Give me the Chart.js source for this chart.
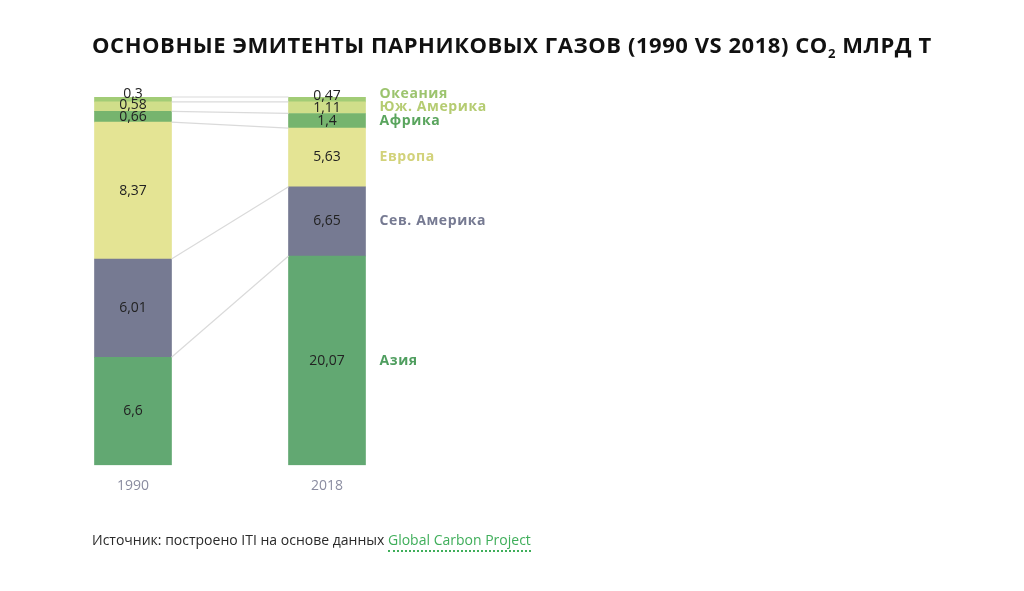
<!DOCTYPE html>
<html>
<head>
<meta charset="utf-8">
<script src="https://cdn.jsdelivr.net/npm/chart.js@4.4.1/dist/chart.umd.min.js"></script>
<style>
  html, body { margin: 0; padding: 0; background: #ffffff; }
  #wrap { position: relative; width: 1024px; height: 591px; overflow: hidden; }
  #title { position: absolute; left: 92px; top: 29px; font-family: "Open Sans", sans-serif; font-weight: 700; font-size: 22px; color: #111; white-space: nowrap; letter-spacing: 0.55px; }
  #title sub { font-size: 13px; vertical-align: -5px; line-height: 0; }
  #source { position: absolute; left: 92px; top: 530px; font-family: "Open Sans", sans-serif; font-size: 14px; color: #2a2a2a; white-space: nowrap; }
  #source span { color: #3fae5a; border-bottom: 2px dotted #3fae5a; padding-bottom: 1px; }
  canvas { position: absolute; left: 0; top: 0; }
</style>
</head>
<body>
<div id="wrap">
  <canvas id="c" width="1024" height="591"></canvas>
  <div id="title">ОСНОВНЫЕ ЭМИТЕНТЫ ПАРНИКОВЫХ ГАЗОВ (1990 VS 2018) CO<sub>2</sub> МЛРД Т</div>
  <div id="source">Источник: построено ITI на основе данных <span>Global Carbon Project</span></div>
</div>
<script>
// ---- data ----
const years = ['1990', '2018'];
const regions = ['Азия', 'Сев. Америка', 'Европа', 'Африка', 'Юж. Америка', 'Океания'];
const asia = [6.6, 20.07];
const northAmerica = [6.01, 6.65];
const europe = [8.37, 5.63];
const africa = [0.66, 1.4];
const southAmerica = [0.58, 1.11];
const oceania = [0.3, 0.47];

const seriesValues = [asia, northAmerica, europe, africa, southAmerica, oceania];
const barColors = ['#62a872', '#767a92', '#e4e494', '#76b46e', '#d0de8a', '#a2cc76'];
const labelColors = ['#4f9e5f', '#767a92', '#d2d27a', '#5aa55e', '#b5cc72', '#9cc46e'];

const totals = years.map((_, j) => seriesValues.reduce((s, arr) => s + arr[j], 0));

const datasets = seriesValues.map((vals, i) => ({
  label: regions[i],
  data: vals.map((v, j) => v / totals[j] * 100),
  raw: vals,
  backgroundColor: barColors[i],
  borderWidth: 0,
  barThickness: 77,
  stack: 's'
}));

function fmt(v) { return String(v).replace('.', ','); }

function spread(centers, minGap) {
  const out = centers.slice();
  for (let k = 1; k < out.length; k++) {
    if (out[k] > out[k - 1] - minGap) out[k] = out[k - 1] - minGap;
  }
  return out;
}

const overlay = {
  id: 'overlay',
  afterDatasetsDraw(chart) {
    const ctx = chart.ctx;
    const n = chart.data.datasets.length;
    ctx.save();
    ctx.strokeStyle = '#dadada';
    ctx.lineWidth = 1.2;
    for (let i = 0; i < n; i++) {
      const m = chart.getDatasetMeta(i);
      const a = m.data[0], b = m.data[1];
      ctx.beginPath();
      ctx.moveTo(a.x + a.width / 2, a.y);
      ctx.lineTo(b.x - b.width / 2, b.y);
      ctx.stroke();
    }
    ctx.restore();

    ctx.save();
    ctx.textAlign = 'center';
    ctx.textBaseline = 'middle';
    ctx.font = '14px "Open Sans", sans-serif';
    ctx.fillStyle = '#222';
    for (let j = 0; j < 2; j++) {
      const centers = [];
      for (let i = 0; i < n; i++) {
        const el = chart.getDatasetMeta(i).data[j];
        centers.push((el.y + el.base) / 2);
      }
      const ys = spread(centers, 11.5);
      for (let i = 0; i < n; i++) {
        const el = chart.getDatasetMeta(i).data[j];
        ctx.fillText(fmt(chart.data.datasets[i].raw[j]), el.x, ys[i]);
      }
    }
    ctx.restore();

    ctx.save();
    ctx.textAlign = 'left';
    ctx.textBaseline = 'middle';
    ctx.font = 'bold 14px "Open Sans", sans-serif';
    try { ctx.letterSpacing = '0.6px'; } catch (e) {}
    const centers = [];
    for (let i = 0; i < n; i++) {
      const el = chart.getDatasetMeta(i).data[1];
      centers.push((el.y + el.base) / 2);
    }
    const ys = spread(centers, 13.5);
    for (let i = 0; i < n; i++) {
      const el = chart.getDatasetMeta(i).data[1];
      ctx.fillStyle = labelColors[i];
      ctx.fillText(chart.data.datasets[i].label, el.x + el.width / 2 + 14, ys[i]);
    }
    ctx.restore();
  }
};

new Chart(document.getElementById('c'), {
  type: 'bar',
  data: { labels: years, datasets },
  options: {
    responsive: false,
    animation: false,
    layout: { padding: { left: 36, right: 600, top: 97, bottom: 85 } },
    plugins: { legend: { display: false }, tooltip: { enabled: false } },
    scales: {
      x: {
        stacked: true,
        grid: { display: false, drawTicks: false },
        border: { display: false },
        ticks: { color: '#8a8ca0', font: { family: 'Open Sans', size: 14 }, padding: 12 }
      },
      y: { stacked: true, min: 0, max: 100, display: false }
    }
  },
  plugins: [overlay]
});
</script>
</body>
</html>
